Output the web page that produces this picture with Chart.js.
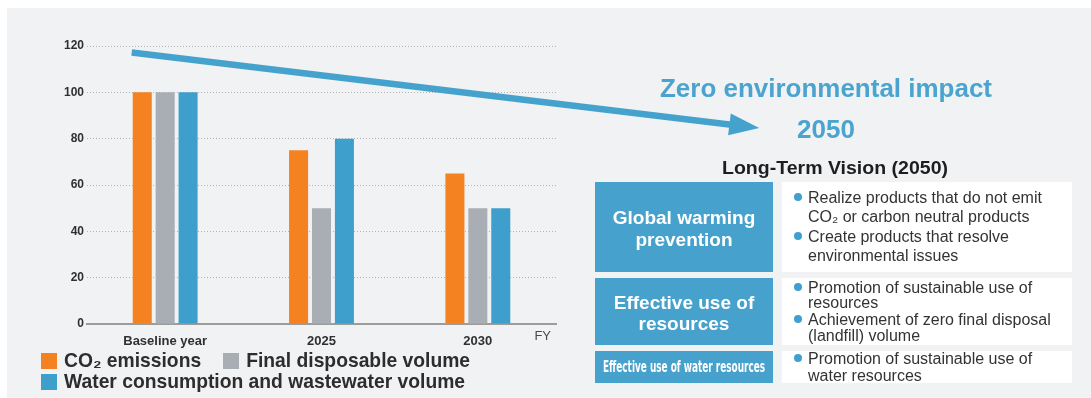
<!DOCTYPE html>
<html>
<head>
<meta charset="utf-8">
<script src="https://cdn.jsdelivr.net/npm/chart.js@4.4.1/dist/chart.umd.min.js"></script>
<style>
  html, body { margin: 0; padding: 0; background: #ffffff; }
  body { width: 1091px; height: 398px; position: relative; overflow: hidden;
         font-family: "Liberation Sans", Arial, Helvetica, sans-serif; }
  #panel { position: absolute; left: 7px; top: 8px; right: 0; bottom: 0; background: #f1f2f4; }
  #chart { position: absolute; left: 0; top: 0; }
  .t { position: absolute; white-space: nowrap; line-height: 1; }
  .box { position: absolute; }
  .blue { background: #46a1cc; }
  .white { background: #ffffff; }
  .legend-row { position: absolute; left: 41px; display: flex; align-items: center; height: 16px; }
  .legend-item { display: flex; align-items: center; margin-right: 22px; }
  .legend-swatch { width: 16px; height: 16px; margin-right: 7px; flex: none; }
  .legend-text { font-weight: bold; font-size: 19.3px; color: #2d2d2d; white-space: nowrap; line-height: 16px; }
  .bullet { position: absolute; width: 8px; height: 8px; border-radius: 50%; background: #3f9fd0; }
</style>
</head>
<body>
<div id="panel"></div>
<canvas id="chart" width="1091" height="398"></canvas>
<div id="legend"></div>
<div id="vision"></div>
<script>
// ---- chart data ----
const categories = ['Baseline year', '2025', '2030'];
const co2Emissions = [100, 75, 65];
const finalDisposableVolume = [100, 50, 50];
const waterConsumption = [100, 80, 50];
const yTicks = [0, 20, 40, 60, 80, 100, 120];
const axisUnit = 'FY';

const seriesNames = ['CO\u2082 emissions', 'Final disposable volume', 'Water consumption and wastewater volume'];
const seriesColors = ['#f58220', '#a9aeb4', '#3f9fcc'];

// trend arrow, in (category index, value) space
const trendArrowFrom = [-0.214, 117.2];
const trendArrowTo = [3.8, 84.6];

// ---- long-term vision panel text ----
const visionTitle = 'Zero environmental impact';
const visionYear = '2050';
const visionHeading = 'Long-Term Vision (2050)';
const visionThemes = [
  ['Global warming', 'prevention'],
  ['Effective use of', 'resources'],
  ['Effective use of water resources']
];
const visionGoals = [
  [['Realize products that do not emit', 'CO\u2082 or carbon neutral products'], ['Create products that resolve', 'environmental issues']],
  [['Promotion of sustainable use of', 'resources'], ['Achievement of zero final disposal', '(landfill) volume']],
  [['Promotion of sustainable use of', 'water resources']]
];

const arrowPlugin = {
  id: 'trendArrow',
  afterDraw(chart) {
    const { ctx, scales: { x, y } } = chart;
    const x0 = x.getPixelForValue(trendArrowFrom[0]);
    const y0 = y.getPixelForValue(trendArrowFrom[1]);
    const x1 = x.getPixelForValue(trendArrowTo[0]);
    const y1 = y.getPixelForValue(trendArrowTo[1]);
    const ang = Math.atan2(y1 - y0, x1 - x0);
    const headLen = 30, headHalf = 11;
    const c = Math.cos(ang), s = Math.sin(ang);
    const bx = x1 - headLen * c, by = y1 - headLen * s;
    ctx.save();
    ctx.strokeStyle = '#45a2cd';
    ctx.fillStyle = '#45a2cd';
    ctx.lineWidth = 6.5;
    ctx.lineCap = 'butt';
    ctx.beginPath();
    ctx.moveTo(x0, y0);
    ctx.lineTo(bx + 2 * c, by + 2 * s);
    ctx.stroke();
    ctx.beginPath();
    ctx.moveTo(x1, y1);
    ctx.lineTo(bx - headHalf * s, by + headHalf * c);
    ctx.lineTo(bx + headHalf * s, by - headHalf * c);
    ctx.closePath();
    ctx.fill();
    // unit label at the end of the category axis
    ctx.font = '13px "Liberation Sans", Arial, sans-serif';
    ctx.fillStyle = '#4a4a4a';
    ctx.textAlign = 'right';
    ctx.textBaseline = 'middle';
    ctx.fillText(axisUnit, x.right - 5, y.bottom + 12);
    ctx.restore();
  }
};

const chart = new Chart(document.getElementById('chart'), {
  type: 'bar',
  data: {
    labels: categories,
    datasets: [
      { label: seriesNames[0], data: co2Emissions, backgroundColor: seriesColors[0] },
      { label: seriesNames[1], data: finalDisposableVolume, backgroundColor: seriesColors[1] },
      { label: seriesNames[2], data: waterConsumption, backgroundColor: seriesColors[2] }
    ]
  },
  options: {
    responsive: false,
    animation: false,
    devicePixelRatio: 1,
    layout: { padding: { left: 40, right: 535, top: 46, bottom: 44 } },
    datasets: { bar: { categoryPercentage: 0.44, barPercentage: 0.83 } },
    plugins: { legend: { display: false }, tooltip: { enabled: false } },
    scales: {
      x: {
        grid: { display: false },
        border: { display: true, color: '#9c9c9c', width: 2 },
        ticks: { color: '#303030', padding: 2, font: { family: '"Liberation Sans", Arial, sans-serif', size: 13, weight: 'bold' } },
        afterFit(scale) { scale.height = 30; }
      },
      y: {
        min: 0,
        max: 120,
        afterBuildTicks(scale) { scale.ticks = yTicks.map(v => ({ value: v })); },
        grid: {
          drawTicks: false,
          color: ctx => (ctx.tick && ctx.tick.value === 0) ? 'rgba(0,0,0,0)' : '#b4b4b4',
          lineWidth: 1
        },
        border: { display: false, dash: [1, 2] },
        ticks: { color: '#303030', padding: 3, font: { family: '"Liberation Sans", Arial, sans-serif', size: 12, weight: 'bold' } },
        afterFit(scale) { scale.width = 47; }
      }
    }
  },
  plugins: [arrowPlugin]
});

// ---- legend, built from the datasets ----
const legend = document.getElementById('legend');
const legendRows = [[0, 1], [2]];
const legendTops = [353, 374];
legendRows.forEach((row, r) => {
  const rowEl = document.createElement('div');
  rowEl.className = 'legend-row';
  rowEl.style.top = legendTops[r] + 'px';
  row.forEach(i => {
    const ds = chart.data.datasets[i];
    const item = document.createElement('div');
    item.className = 'legend-item';
    const sw = document.createElement('span');
    sw.className = 'legend-swatch';
    sw.style.background = ds.backgroundColor;
    const tx = document.createElement('span');
    tx.className = 'legend-text';
    tx.textContent = ds.label;
    item.appendChild(sw);
    item.appendChild(tx);
    rowEl.appendChild(item);
  });
  legend.appendChild(rowEl);
});

// ---- vision panel ----
const vision = document.getElementById('vision');
function addText(text, o) {
  const el = document.createElement('div');
  el.className = 't';
  el.textContent = text;
  el.style.fontSize = o.size + 'px';
  el.style.fontWeight = o.bold ? 'bold' : 'normal';
  el.style.color = o.color;
  if (o.family) el.style.fontFamily = o.family;
  vision.appendChild(el);
  const w = el.getBoundingClientRect().width;
  const k = o.width ? o.width / w : 1;
  if (o.align === 'left') {
    el.style.left = o.x + 'px';
    el.style.top = (o.cy - o.size / 2) + 'px';
    el.style.transformOrigin = 'left center';
    el.style.transform = 'scaleX(' + k + ')';
  } else {
    el.style.left = o.x + 'px';
    el.style.top = o.cy + 'px';
    el.style.transform = 'translate(-50%, -50%) scaleX(' + k + ')';
  }
  return el;
}
function addBox(cls, x, y, w, h) {
  const el = document.createElement('div');
  el.className = 'box ' + cls;
  el.style.left = x + 'px'; el.style.top = y + 'px';
  el.style.width = w + 'px'; el.style.height = h + 'px';
  vision.appendChild(el);
}

addText(visionTitle, { x: 826, cy: 88, size: 25, bold: true, color: '#4aa4cf', width: 332 });
addText(visionYear, { x: 826, cy: 129, size: 26, bold: true, color: '#4aa4cf' });
addText(visionHeading, { x: 835, cy: 168, size: 18, bold: true, color: '#1e1e1e', width: 226 });

const rowTops = [182, 278, 351];
const rowBottoms = [272, 345, 383];
const themeLineCenters = [[217, 239], [302, 323], [367]];
const goalLineCenters = [[[198, 217], [237, 256]], [[288, 303], [320, 336]], [[359, 376]]];

visionThemes.forEach((lines, r) => {
  const h = rowBottoms[r] - rowTops[r];
  addBox('blue', 595, rowTops[r], 178, h);
  addBox('white', 782, rowTops[r], 290, h);
  lines.forEach((ln, j) => {
    if (r === 2) {
      addText(ln, { x: 684, cy: themeLineCenters[r][j], size: 16, bold: true, color: '#ffffff',
                    family: '"Liberation Sans Narrow", "DejaVu Sans Condensed", sans-serif', width: 162 });
    } else {
      addText(ln, { x: 684, cy: themeLineCenters[r][j], size: 19, bold: true, color: '#ffffff' });
    }
  });
  visionGoals[r].forEach((goal, g) => {
    const centers = goalLineCenters[r][g];
    const dot = document.createElement('div');
    dot.className = 'bullet';
    dot.style.left = (798 - 4) + 'px';
    dot.style.top = (centers[0] - 5) + 'px';
    vision.appendChild(dot);
    goal.forEach((ln, j) => {
      addText(ln, { x: 808, cy: centers[j], size: 16, bold: false, color: '#333333', align: 'left' });
    });
  });
});
</script>
</body>
</html>
